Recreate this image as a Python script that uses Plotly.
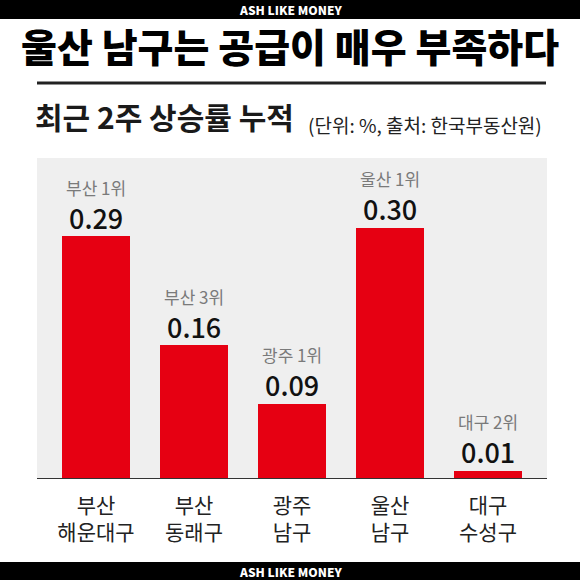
import plotly.graph_objects as go

categories = ["부산<br>해운대구", "부산<br>동래구", "광주<br>남구", "울산<br>남구", "대구<br>수성구"]
values = [0.29, 0.16, 0.09, 0.30, 0.01]
rank_labels = ["부산 1위", "부산 3위", "광주 1위", "울산 1위", "대구 2위"]
value_labels = ["0.29", "0.16", "0.09", "0.30", "0.01"]

FONT = "Noto Sans CJK KR"
W, H = 580, 580
ML, MR, MT, MB = 37, 33, 158, 101
PW, PH = W - ML - MR, H - MT - MB


def px(x):
    return (x - ML) / PW


def py(y):
    return (H - MB - y) / PH


xs = list(range(len(categories)))

fig = go.Figure()
fig.add_trace(go.Bar(
    x=xs, y=values, width=0.694,
    marker=dict(color="#e60012", line=dict(width=0)),
    hoverinfo="skip",
))

annotations = []
for x, v, r, vl in zip(xs, values, rank_labels, value_labels):
    annotations.append(dict(x=x, y=v, xref="x", yref="y", text=vl, showarrow=False,
                            yanchor="middle", yshift=19, borderpad=0,
                            font=dict(family=FONT, size=27, color="#111111", weight=500)))
    annotations.append(dict(x=x, y=v, xref="x", yref="y", text=r, showarrow=False,
                            yanchor="middle", yshift=49, borderpad=0,
                            font=dict(family=FONT, size=17, color="#7a7a7a")))

annotations += [
    dict(x=0.5 * (px(0) + px(W)), y=py(10), xref="paper", yref="paper", xanchor="center", yanchor="middle",
         text="ASH LIKE MONEY", showarrow=False,
         font=dict(family=FONT, size=12, color="white", weight=900)),
    dict(x=0.5 * (px(0) + px(W)), y=py(571), xref="paper", yref="paper", xanchor="center", yanchor="middle",
         text="ASH LIKE MONEY", showarrow=False,
         font=dict(family=FONT, size=12, color="white", weight=900)),
    dict(x=0.5 * (px(0) + px(W)), y=py(45), xref="paper", yref="paper", xanchor="center", yanchor="middle",
         text="울산 남구는 공급이 매우 부족하다", showarrow=False,
         font=dict(family=FONT, size=39, color="#000000", weight=900)),
    dict(x=px(33), y=py(116), xref="paper", yref="paper", xanchor="left", yanchor="middle",
         text="최근 2주 상승률 누적", showarrow=False,
         font=dict(family=FONT, size=30, color="#1a1a1a", weight=700)),
    dict(x=px(306), y=py(124), xref="paper", yref="paper", xanchor="left", yanchor="middle",
         text="(단위: %, 출처: 한국부동산원)", showarrow=False,
         font=dict(family=FONT, size=19, color="#222222")),
]

shapes = [
    dict(type="rect", xref="paper", yref="paper", x0=px(0), x1=px(W), y0=py(19), y1=py(0),
         fillcolor="black", line=dict(width=0), layer="below"),
    dict(type="rect", xref="paper", yref="paper", x0=px(0), x1=px(W), y0=py(H), y1=py(562),
         fillcolor="black", line=dict(width=0), layer="below"),
    dict(type="line", xref="paper", yref="paper", x0=px(37), x1=px(546),
         y0=py(83), y1=py(83), line=dict(color="#222222", width=3)),
    dict(type="line", xref="paper", yref="y", x0=0, x1=1, y0=0, y1=0,
         line=dict(color="#333333", width=2)),
]

fig.update_layout(
    width=W, height=H,
    margin=dict(l=ML, r=MR, t=MT, b=MB, pad=0, autoexpand=False),
    paper_bgcolor="white", plot_bgcolor="#efefef",
    showlegend=False,
    annotations=annotations, shapes=shapes,
    bargap=0,
    xaxis=dict(range=[-0.602, 4.602], tickmode="array", tickvals=xs, ticktext=categories,
               showgrid=False, zeroline=False, showline=False, ticks="",
               ticklabelstandoff=12, automargin=False,
               tickfont=dict(family=FONT, size=21, color="#222222"), fixedrange=True),
    yaxis=dict(range=[0, 0.3835], showgrid=False, zeroline=False, showline=False,
               showticklabels=False, ticks="", fixedrange=True, automargin=False),
)

fig.write_html("out.html", config={"displayModeBar": False},
               post_script="document.body.style.margin='0';document.body.style.overflow='hidden';")
